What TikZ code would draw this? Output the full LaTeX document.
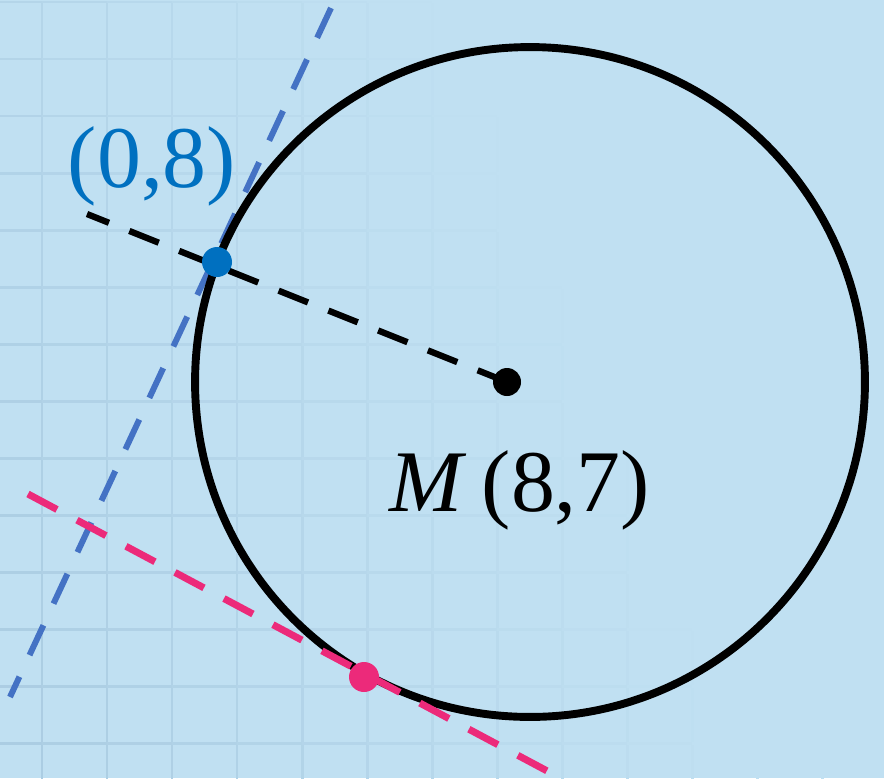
\documentclass[tikz,border=0pt]{standalone}
\usepackage{fontspec}
\setmainfont{Liberation Serif}
\definecolor{bgblue}{RGB}{192,224,242}
\definecolor{gridblue}{RGB}{170,204,226}
\definecolor{ptblue}{RGB}{0,112,192}
\definecolor{tanblue}{RGB}{68,114,196}
\definecolor{tanpink}{RGB}{236,42,122}
\tikzset{
  ring/.style={
    circle,
    draw=black,
    line width=4.5pt,
    inner sep=0pt,
    minimum size=13.4cm
  },
  radiusline/.style={
    draw=black,
    line width=3.6pt,
    dash pattern=on 18pt off 12.5pt
  },
  tangentblue/.style={
    draw=tanblue,
    line width=3.4pt,
    dash pattern=on 18.7pt off 13.6pt
  },
  tangentpink/.style={
    draw=tanpink,
    line width=4pt,
    dash pattern=on 18.7pt off 12.9pt
  },
  dot/.style={
    circle,
    inner sep=0pt,
    minimum size=0.6cm
  },
  pointlabel/.style={
    inner sep=0pt,
    font=\fontsize{50}{60}\selectfont
  },
  gridline/.style={
    line width=1.7pt
  }
}

\begin{document}
\begin{tikzpicture}[x=0.02cm, y=-0.02cm]
  \useasboundingbox (0,0) rectangle (884,778);
  \fill[bgblue] (0,0) rectangle (884,778);
  \clip (0,0) rectangle (884,778);

  \foreach \i in {0,...,13}{
    \foreach \j in {0,...,14}{
      \pgfmathsetmacro{\gx}{-23+65*\i}
      \pgfmathsetmacro{\gy}{2+57*\j}
      \pgfmathsetmacro{\gr}{(\gx+0.4*(778-\gy))/720}
      \pgfmathsetmacro{\gp}{max(0,min(100,95*(1-\gr)))}
      \draw[gridline, gridblue!\gp!bgblue] (\gx,\gy) -- ++(65,0);
      \draw[gridline, gridblue!\gp!bgblue] (\gx+65,\gy) -- ++(0,57);
    }
  }

  \coordinate (C) at (530,382);
  \coordinate (M) at (507,382);
  \coordinate (rA) at (87,214);
  \coordinate (tA) at (331,8);
  \coordinate (tB) at (10,697);
  \coordinate (nA) at (28,494);
  \coordinate (nB) at (551,773);

  \draw[tangentblue] (tA) -- (tB);
  \node[ring] (circ) at (C) {};
  \draw[radiusline] (M) -- (rA);
  \draw[tangentpink] (nA) -- (nB);

  \node[dot, fill=black, minimum size=0.56cm] (Mdot) at (M) {};
  \node[dot, fill=ptblue] (P) at (217,262) {};
  \node[dot, fill=tanpink] (Q) at (364,677) {};

  \node[pointlabel, text=ptblue] (Plbl) at (152,166) {(0,8)};
  \node[pointlabel] (Mlbl) at (520,490) {\textit{M}\,(8,7)};
\end{tikzpicture}
\end{document}
